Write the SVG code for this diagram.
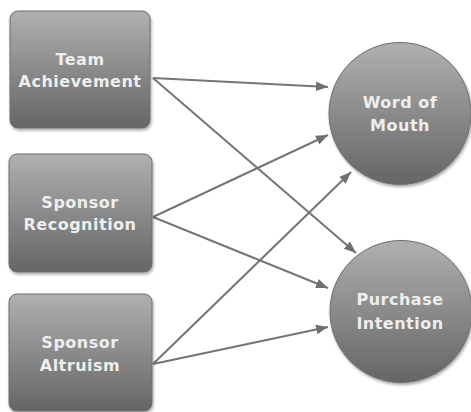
<svg xmlns="http://www.w3.org/2000/svg" width="471" height="412" viewBox="0 0 471 412">
<defs>
<linearGradient id="g" x1="0" y1="0" x2="0" y2="1">
<stop offset="0" stop-color="#b0b0b0"/>
<stop offset="1" stop-color="#656565"/>
</linearGradient>
<filter id="sh" x="-10%" y="-10%" width="130%" height="130%">
<feGaussianBlur in="SourceAlpha" stdDeviation="1.5"/>
<feOffset dx="1" dy="2"/>
<feComponentTransfer><feFuncA type="linear" slope="0.35"/></feComponentTransfer>
<feMerge><feMergeNode/><feMergeNode in="SourceGraphic"/></feMerge>
</filter>
<marker id="ah" viewBox="0 0 10 10" refX="10" refY="5" markerWidth="6" markerHeight="6" orient="auto" markerUnits="strokeWidth">
<path d="M0,1 L10,5 L0,9 z" fill="#707070"/>
</marker>
</defs>
<style>
.n{fill:url(#g);stroke:#6e6e6e;stroke-width:1;filter:url(#sh)}
.t{font-family:"DejaVu Sans",Verdana,sans-serif;font-weight:bold;font-size:16px;fill:#eeeeee;text-anchor:middle;letter-spacing:0.5px}
.c{stroke:#757575;stroke-width:2;fill:none;marker-end:url(#ah)}
</style>
<rect width="471" height="412" fill="#ffffff"/>
<g id="connectors">
<line class="c" x1="153" y1="78" x2="328" y2="87"/>
<line class="c" x1="153" y1="78" x2="356" y2="253"/>
<line class="c" x1="153" y1="217" x2="328" y2="135"/>
<line class="c" x1="153" y1="217" x2="328" y2="288"/>
<line class="c" x1="153" y1="364" x2="351" y2="172"/>
<line class="c" x1="153" y1="364" x2="328" y2="327"/>
</g>
<g id="team-achievement">
<rect class="n" x="10" y="11" width="140" height="117" rx="8"/>
<text class="t" x="80" y="65">Team</text>
<text class="t" x="80" y="87">Achievement</text>
</g>
<g id="sponsor-recognition">
<rect class="n" x="9" y="154" width="143" height="118" rx="8"/>
<text class="t" x="80" y="208">Sponsor</text>
<text class="t" x="80" y="230">Recognition</text>
</g>
<g id="sponsor-altruism">
<rect class="n" x="9" y="294" width="143" height="117" rx="8"/>
<text class="t" x="80" y="348">Sponsor</text>
<text class="t" x="80" y="371">Altruism</text>
</g>
<g id="word-of-mouth">
<circle class="n" cx="400" cy="113.5" r="71"/>
<text class="t" x="400" y="108">Word of</text>
<text class="t" x="400" y="131">Mouth</text>
</g>
<g id="purchase-intention">
<circle class="n" cx="401" cy="311.5" r="71"/>
<text class="t" x="400" y="305">Purchase</text>
<text class="t" x="400" y="329">Intention</text>
</g>
</svg>
